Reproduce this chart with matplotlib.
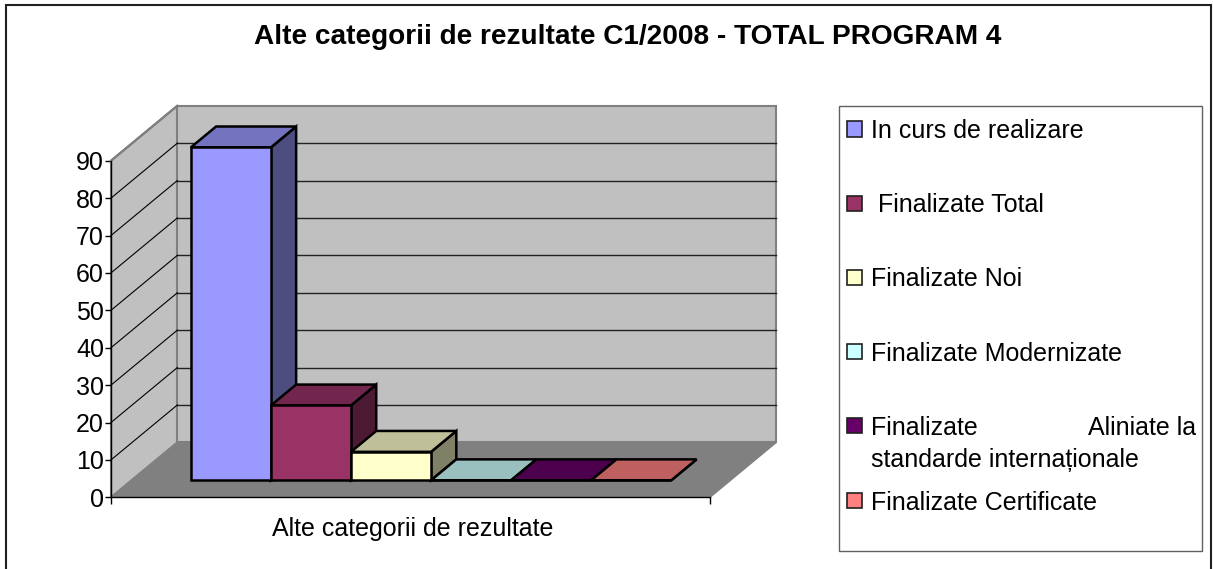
import matplotlib
matplotlib.use('Agg')
import matplotlib.pyplot as plt
from matplotlib.patches import Rectangle

plt.rcParams['font.family'] = ['Liberation Sans', 'DejaVu Sans']

title = 'Alte categorii de rezultate C1/2008 - TOTAL PROGRAM 4'
category = 'Alte categorii de rezultate'
names = ['In curs de realizare', ' Finalizate Total', 'Finalizate Noi',
         'Finalizate Modernizate', 'Finalizate', 'Finalizate Certificate']
values = [89, 20, 7.6, 0, 0, 0]
colors = ['#9999FF', '#993366', '#FFFFCC', '#CCFFFF', '#660066', '#FF8080']
tops = ['#7373BF', '#73264D', '#BFBF99', '#99BFBF', '#4D004D', '#BF6060']
sides = ['#4D4D80', '#4D1A33', '#808066', '#668080', '#330033', '#804040']
y_ticks = list(range(0, 100, 10))

W, H = 1213, 569
GAP = 0.74
DX, DY = 0.829, 14.7   # wall depth in data units
D0, D1 = 0.31, 0.69    # where the bars sit inside the depth


def px_x(x):
    return x / W


def px_y(y):
    return 1 - y / H


fig = plt.figure(figsize=(W / 100, H / 100), dpi=100)
# frame runs off the bottom of the picture
fig.patches.append(Rectangle((px_x(6), px_y(580)), 1205 / W, 575 / H, transform=fig.transFigure,
                             fc='white', ec='#202020', lw=1.5, zorder=-1))

ax = fig.add_axes([px_x(111), px_y(497.3), 599 / W, 336.6 / H])
ax.patch.set_visible(False)
xmax = len(values) + 2 * GAP
ax.set_xlim(0, xmax)
ax.set_ylim(0, 90)

# walls and floor
ax.fill([0, DX, DX, 0], [0, DY, 90 + DY, 90], fc='#C0C0C0', ec='#808080', lw=1.5, clip_on=False, zorder=1)
ax.fill([DX, xmax + DX, xmax + DX, DX], [DY, DY, 90 + DY, 90 + DY], fc='#C0C0C0', ec='#808080', lw=1.5,
        clip_on=False, zorder=1)
ax.fill([0, xmax, xmax + DX, DX], [0, 0, DY, DY], fc='#808080', ec='#808080', lw=1, clip_on=False, zorder=1)

for t in y_ticks[1:]:
    if t < 90:
        ax.plot([DX, xmax + DX], [t + DY, t + DY], color='#222222', lw=1, clip_on=False, zorder=2)
    ax.plot([0, DX], [t, t + DY], color='black', lw=0.8, clip_on=False, zorder=2)
ax.plot([0, DX], [90, 90 + DY], color='#808080', lw=1.5, clip_on=False, zorder=2)

# bars
for i, v in enumerate(values):
    x0 = GAP + i + D0 * DX
    x1 = x0 + 1
    y0 = D0 * DY
    dx = (D1 - D0) * DX
    dy = (D1 - D0) * DY
    z = 3 + i
    ax.fill([x1, x1 + dx, x1 + dx, x1], [y0, y0 + dy, y0 + dy + v, y0 + v], fc=sides[i], ec='black', lw=1.8,
            clip_on=False, zorder=z)
    ax.fill([x0, x1, x1 + dx, x0 + dx], [y0 + v, y0 + v, y0 + v + dy, y0 + v + dy], fc=tops[i], ec='black', lw=1.8,
            clip_on=False, zorder=z)
    ax.bar(x0, v, width=1, bottom=y0, align='edge', color=colors[i], ec='black', lw=1.8, clip_on=False, zorder=z)

for s in ['top', 'right']:
    ax.spines[s].set_visible(False)
for s in ['left', 'bottom']:
    ax.spines[s].set_linewidth(1)
    ax.spines[s].set_zorder(20)
ax.set_yticks(y_ticks)
ax.set_xticks([0, xmax])
ax.set_xticklabels(['', ''])
ax.tick_params(axis='y', length=4, width=1, labelsize=18, pad=1)
ax.tick_params(axis='x', length=5, width=1)
ax.set_xlabel(category, fontsize=18, x=0.504, labelpad=6)

fig.text(px_x(628), px_y(37.5), title, fontsize=20.2, fontweight='bold', ha='center', va='center')

# legend
fig.patches.append(Rectangle((px_x(838.7), px_y(550.7)), 363.3 / W, 444.7 / H, transform=fig.transFigure,
                             fc='white', ec='#606060', lw=1, zorder=-1))
legend_y = [129, 203, 277, 351.7, 425.7, 500]
for name, c, y in zip(names, colors, legend_y):
    fig.patches.append(Rectangle((px_x(847.3), px_y(y + 7.5)), 15 / W, 15 / H, transform=fig.transFigure,
                                 fc=c, ec='#202020', lw=1.2))
    fig.text(px_x(871), px_y(y), name, fontsize=18, ha='left', va='center_baseline')
fig.text(px_x(1196), px_y(425.7), 'Aliniate la', fontsize=18, ha='right', va='center_baseline')
fig.text(px_x(871), px_y(458), 'standarde internaționale', fontsize=18, ha='left', va='center_baseline')

fig.savefig('out.png', dpi=100)
